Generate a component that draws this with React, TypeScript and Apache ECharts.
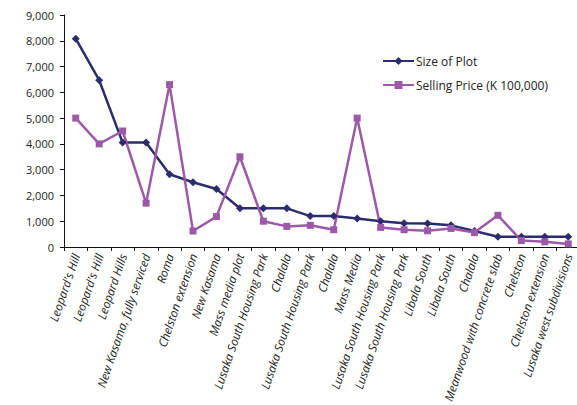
import React, { useEffect, useRef } from "react";
import * as echarts from "echarts";

const categories = [
  "Leopard's Hill",
  "Leopard's Hill",
  "Leopard Hills",
  "New Kasama, fully serviced",
  "Roma",
  "Chelston extension",
  "New Kasama",
  "Mass media plot",
  "Lusaka South Housing Park",
  "Chalala",
  "Lusaka South Housing Park",
  "Chalala",
  "Mass Media",
  "Lusaka South Housing Park",
  "Lusaka South Housing Park",
  "Libala South",
  "Libala South",
  "Chalala",
  "Meanwood with concrete slab",
  "Chelston",
  "Chelston extension",
  "Lusaka west subdivisions",
];

const sizeOfPlot = [8080, 6470, 4050, 4050, 2820, 2510, 2250, 1500, 1500, 1500, 1200, 1200, 1110, 1000, 920, 910, 840, 620, 400, 400, 400, 400];
const sellingPrice = [5000, 4000, 4500, 1700, 6300, 620, 1180, 3500, 1000, 800, 840, 670, 5000, 760, 670, 630, 720, 560, 1230, 250, 200, 120];

const navy = "#2c2b6c";
const purple = "#9c59a7";
const font = "'Open Sans', 'Noto Sans', sans-serif";

export default function App() {
  const ref = useRef<HTMLDivElement>(null);
  useEffect(() => {
    document.body.style.margin = "0";
    const chart = echarts.init(ref.current!, null, { renderer: "svg" });
    chart.setOption({
      animation: false,
      backgroundColor: "#ffffff",
      grid: { left: 64, top: 15, bottom: 158, right: -3, containLabel: false, outerBoundsMode: "none" },
      legend: {
        orient: "vertical",
        left: 377,
        top: 50,
        itemWidth: 31,
        itemHeight: 10,
        itemGap: 12,
        textStyle: { fontFamily: font, fontSize: 12, color: "#222", padding: [0, 0, 0, -3] },
        data: ["Size of Plot", "Selling Price (K 100,000)"],
      },
      xAxis: {
        type: "category",
        data: categories,
        boundaryGap: true,
        axisLine: { lineStyle: { color: "#111", width: 1 } },
        axisTick: { show: true, length: 4, lineStyle: { color: "#111" } },
        axisLabel: {
          rotate: 71,
          interval: 0,
          margin: 7,
          fontFamily: font,
          fontStyle: "italic",
          fontSize: 11.8,
          color: "#222",
        },
      },
      yAxis: {
        type: "value",
        min: 0,
        max: 9000,
        interval: 1000,
        splitLine: { show: false },
        axisLine: { show: true, lineStyle: { color: "#111", width: 1 } },
        axisTick: { show: true, length: 4, lineStyle: { color: "#111" } },
        axisLabel: {
          margin: 10,
          fontFamily: font,
          fontSize: 11,
          color: "#222",
          formatter: (v: number) => v.toLocaleString("en-US"),
        },
      },
      series: [
        {
          name: "Size of Plot",
          type: "line",
          data: sizeOfPlot,
          symbol: "diamond",
          symbolSize: 8,
          lineStyle: { color: navy, width: 2.5 },
          itemStyle: { color: navy },
        },
        {
          name: "Selling Price (K 100,000)",
          type: "line",
          data: sellingPrice,
          symbol: "rect",
          symbolSize: 7,
          lineStyle: { color: purple, width: 2.5 },
          itemStyle: { color: purple },
        },
      ],
    });
    return () => chart.dispose();
  }, []);
  return <div ref={ref} style={{ width: 577, height: 405 }} />;
}
